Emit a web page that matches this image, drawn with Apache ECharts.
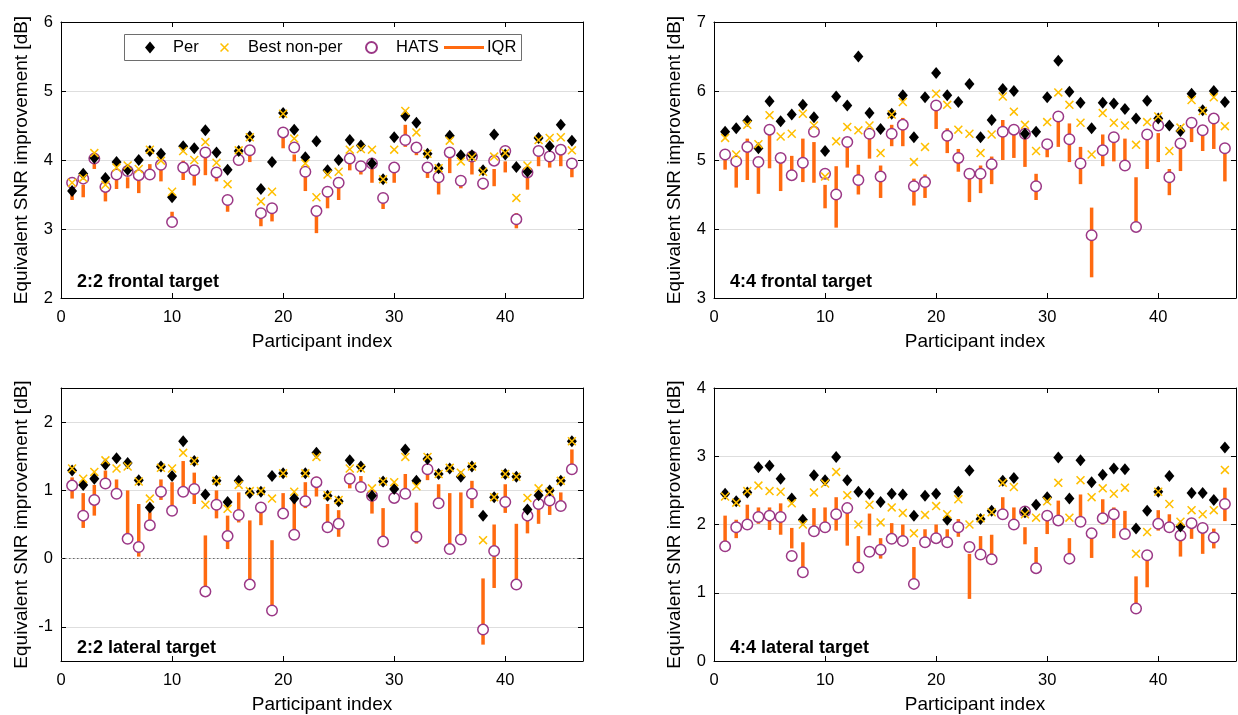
<!DOCTYPE html>
<html>
<head>
<meta charset="utf-8">
<script src="https://cdn.jsdelivr.net/npm/echarts@6/dist/echarts.min.js"></script>
<style>
html,body{margin:0;padding:0;background:#fff;}
#chart{width:1238px;height:715px;}
</style>
</head>
<body>
<div id="chart"></div>
<script>
// ---------------- data ----------------
const participants = [1,2,3,4,5,6,7,8,9,10,11,12,13,14,15,16,17,18,19,20,21,22,23,24,25,26,27,28,29,30,31,32,33,34,35,36,37,38,39,40,41,42,43,44,45,46];
const xTicks = [0,10,20,30,40];
const panelTitles = ['2:2 frontal target','4:4 frontal target','2:2 lateral target','4:4 lateral target'];
const lateral22Ticks = [-1,0,1,2];

// 2:2 frontal target
const f22Per  = [3.55,3.80,4.03,3.74,3.97,3.86,4.00,4.13,4.09,3.46,4.20,4.17,4.43,4.11,3.86,4.13,4.34,3.58,3.97,4.68,4.44,4.04,4.27,3.85,4.00,4.29,4.21,3.95,3.72,4.33,4.64,4.54,4.09,3.88,4.35,4.07,4.07,3.85,4.37,4.08,3.90,3.83,4.32,4.20,4.51,4.28];
const f22Best = [3.67,3.74,4.10,3.64,3.89,3.92,3.87,4.15,3.99,3.54,4.13,4.00,4.26,3.96,3.65,4.14,4.33,3.40,3.54,4.67,4.31,3.95,3.46,3.79,3.83,4.15,4.16,4.15,3.72,4.15,4.71,4.40,4.09,3.88,4.28,3.98,4.04,3.83,4.05,4.10,3.45,3.92,4.29,4.32,4.33,4.14];
const f22Hats = [3.67,3.73,4.02,3.61,3.79,3.84,3.78,3.79,3.93,3.10,3.89,3.85,4.11,3.82,3.42,4.00,4.14,3.23,3.30,4.40,4.18,3.83,3.26,3.54,3.67,4.02,3.91,3.95,3.45,3.89,4.29,4.18,3.89,3.75,4.11,3.70,4.05,3.66,3.99,4.13,3.14,3.82,4.13,4.05,4.15,3.95];
const f22Lo   = [3.42,3.46,3.87,3.40,3.58,3.59,3.52,3.73,3.69,3.12,3.71,3.63,3.78,3.69,3.25,3.92,3.97,3.04,3.11,4.17,3.98,3.55,2.94,3.30,3.42,3.85,3.79,3.67,3.29,3.67,4.19,4.07,3.74,3.50,3.81,3.59,3.79,3.57,3.62,3.82,3.01,3.57,3.91,3.89,3.91,3.75];
const f22Hi   = [3.62,3.64,3.98,3.55,3.77,3.75,3.70,3.94,3.88,3.25,3.99,3.79,4.03,3.85,3.46,4.05,4.20,3.19,3.26,4.46,4.08,3.87,3.25,3.57,3.65,3.98,3.91,3.98,3.43,3.91,4.51,4.25,3.96,3.70,4.08,3.76,4.05,3.69,3.87,3.98,3.23,3.84,4.10,4.08,4.13,3.96];

// 4:4 frontal target
const f44Per  = [5.41,5.46,5.57,5.17,5.85,5.56,5.66,5.80,5.62,5.13,5.92,5.79,6.50,5.68,5.45,5.67,5.94,5.33,5.91,6.26,5.94,5.84,6.10,5.33,5.58,6.03,6.00,5.38,5.41,5.91,6.44,5.99,5.83,5.46,5.83,5.82,5.74,5.60,5.86,5.60,5.50,5.42,5.96,5.72,6.00,5.84];
const f44Best = [5.32,5.08,5.51,5.23,5.65,5.34,5.38,5.67,5.50,4.76,5.27,5.48,5.43,5.50,5.10,5.66,5.84,4.97,5.19,5.96,5.80,5.44,5.38,5.10,5.37,5.92,5.70,5.51,5.13,5.55,5.98,5.80,5.54,5.08,5.68,5.54,5.50,5.22,5.55,5.63,5.13,5.47,5.87,5.71,5.91,5.49];
const f44Hats = [5.08,4.98,5.19,4.97,5.44,5.03,4.78,4.96,5.41,4.80,4.50,5.26,4.71,5.38,4.76,5.38,5.51,4.62,4.68,5.79,5.35,5.03,4.80,4.80,4.94,5.41,5.44,5.38,4.62,5.23,5.63,5.30,4.95,3.91,5.14,5.33,4.92,4.03,5.37,5.50,4.75,5.24,5.54,5.43,5.60,5.17];
const f44Lo   = [4.86,4.60,4.71,4.51,4.88,4.55,4.76,4.68,4.67,4.30,4.02,4.89,4.50,5.02,4.45,5.20,5.20,4.34,4.45,5.45,5.10,4.83,4.39,4.52,4.65,5.00,5.03,4.90,4.42,5.04,5.19,4.97,4.65,3.30,4.91,4.98,4.85,3.98,4.87,4.97,4.49,4.84,5.26,5.13,5.16,4.69];
const f44Hi   = [5.05,4.94,5.31,5.03,5.42,5.09,5.06,5.31,5.26,4.64,4.91,5.26,4.93,5.34,4.92,5.51,5.61,4.73,4.79,5.75,5.46,5.16,4.78,4.92,5.05,5.58,5.39,5.39,4.80,5.25,5.67,5.53,5.19,4.31,5.37,5.37,5.31,4.75,5.29,5.39,4.87,5.18,5.56,5.42,5.54,5.22];

// 2:2 lateral target
const l22Per  = [1.29,1.08,1.17,1.38,1.47,1.40,1.15,0.75,1.35,1.21,1.72,1.43,0.94,1.14,0.83,1.14,0.96,0.98,1.21,1.25,0.88,1.25,1.55,0.92,0.84,1.44,1.35,0.92,1.13,1.02,1.60,1.14,1.46,1.24,1.32,1.20,1.35,0.63,0.90,1.24,1.20,0.72,0.93,1.00,1.14,1.72];
const l22Best = [1.32,1.17,1.27,1.44,1.32,1.35,1.13,0.88,1.33,1.32,1.55,1.43,0.79,1.14,0.73,1.08,0.99,0.99,0.88,1.25,0.98,1.25,1.49,0.93,0.86,1.32,1.32,1.03,1.13,1.12,1.49,1.06,1.49,1.24,1.33,1.26,1.35,0.27,0.90,1.24,1.20,0.89,1.03,0.98,1.14,1.72];
const l22Hats = [1.07,0.63,0.86,1.10,0.95,0.29,0.17,0.49,0.98,0.70,0.98,1.02,-0.48,0.79,0.33,0.64,-0.38,0.75,-0.76,0.66,0.35,0.84,1.12,0.46,0.51,1.17,1.05,0.92,0.25,0.89,0.95,0.32,1.31,0.81,0.14,0.28,0.95,-1.04,0.11,0.83,-0.38,0.63,0.80,0.85,0.77,1.31];
const l22Lo   = [0.88,0.45,0.63,1.04,0.92,0.35,0.03,0.44,0.86,0.63,1.04,0.80,-0.45,0.59,0.14,0.53,-0.33,0.49,-0.79,0.59,0.29,0.74,0.91,0.44,0.32,1.03,0.98,0.66,0.28,0.90,0.95,0.22,1.15,0.82,0.17,0.22,0.74,-1.26,-0.43,0.67,-0.33,0.37,0.51,0.64,0.71,1.26];
const l22Hi   = [1.19,0.96,1.08,1.29,1.16,1.00,0.80,0.68,1.16,1.12,1.43,1.26,0.34,1.00,0.63,0.97,0.56,0.83,0.27,0.96,0.85,1.12,1.20,0.80,0.71,1.26,1.21,0.97,0.74,1.02,1.24,0.82,1.36,1.09,0.96,0.97,1.14,-0.29,0.50,1.09,0.51,0.71,0.87,0.85,0.97,1.60];

// 4:4 lateral target
const l44Per  = [2.45,2.34,2.47,2.84,2.86,2.67,2.38,2.07,2.72,2.65,2.99,2.65,2.48,2.45,2.33,2.45,2.44,2.13,2.42,2.45,2.07,2.48,2.79,2.08,2.20,2.64,2.68,2.18,2.29,2.40,2.98,2.38,2.94,2.62,2.73,2.82,2.81,1.94,2.20,2.48,2.71,1.97,2.46,2.46,2.36,3.13];
const l44Best = [2.41,2.32,2.49,2.57,2.49,2.48,2.31,2.00,2.47,2.60,2.77,2.43,2.00,2.29,2.03,2.25,2.17,1.87,2.14,2.27,2.15,2.37,2.00,2.09,2.18,2.61,2.55,2.15,2.10,2.34,2.61,2.10,2.65,2.40,2.53,2.45,2.54,1.57,1.89,2.48,2.30,2.04,2.21,2.15,2.21,2.80];
const l44Hats = [1.68,1.96,2.00,2.11,2.13,2.11,1.54,1.30,1.90,1.96,2.15,2.24,1.37,1.60,1.63,1.79,1.76,1.13,1.74,1.80,1.74,1.96,1.67,1.56,1.49,2.15,2.00,2.19,1.36,2.13,2.06,1.50,2.04,1.87,2.09,2.15,1.86,0.77,1.55,2.01,1.96,1.84,2.02,1.95,1.81,2.30];
const l44Lo   = [1.61,1.80,2.00,2.01,1.92,1.85,1.65,1.32,1.85,1.89,1.91,1.69,1.44,1.84,1.50,1.77,1.78,1.17,1.71,1.74,1.68,1.82,0.91,1.58,1.51,2.12,2.00,1.71,1.39,1.86,2.04,1.46,2.07,1.51,2.00,1.80,1.85,0.74,1.08,1.91,1.89,1.53,1.79,1.57,1.65,2.05];
const l44Hi   = [2.13,2.07,2.29,2.25,2.25,2.31,1.95,1.74,2.24,2.25,2.40,2.20,1.83,2.16,1.80,2.02,2.00,1.67,1.93,2.00,1.93,2.08,1.57,1.83,1.85,2.40,2.25,1.96,1.67,2.12,2.35,1.80,2.44,1.92,2.37,2.25,2.20,1.24,1.51,2.21,2.15,1.84,2.01,1.98,1.94,2.54];

// ---------------- styling ----------------
const FONT = "'Liberation Sans', Arial, Helvetica, sans-serif";
const ORANGE = '#ff6a10';
const PURPLE = '#9b3886';
const YELLOW = '#ffbf00';
const XPATH = 'path://M0,1.2L1.2,0L10,8.8L8.8,10Z M8.8,0L10,1.2L1.2,10L0,8.8Z';

const panels = [
  {per:f22Per, best:f22Best, hats:f22Hats, lo:f22Lo, hi:f22Hi, yMin:2, yMax:6, yInt:1, left:61, top:22},
  {per:f44Per, best:f44Best, hats:f44Hats, lo:f44Lo, hi:f44Hi, yMin:3, yMax:7, yInt:1, left:714, top:22},
  {per:l22Per, best:l22Best, hats:l22Hats, lo:l22Lo, hi:l22Hi, yMin:-1.5, yMax:2.5, yInt:0.5, custom:lateral22Ticks, left:61, top:388},
  {per:l44Per, best:l44Best, hats:l44Hats, lo:l44Lo, hi:l44Hi, yMin:0, yMax:4, yInt:1, left:714, top:388}
];

const grids = [], xAxes = [], yAxes = [], series = [], titles = [];
const axisLineStyle = {show:true, onZero:false, lineStyle:{color:'#000', width:1}};
const tickStyle = {show:true, inside:true, length:5, lineStyle:{color:'#000', width:1}};

panels.forEach((p, k) => {
  grids.push({left:p.left, top:p.top, width:522, height:276});
  xAxes.push({gridIndex:k, type:'value', position:'bottom', min:0, max:47, interval:10,
    axisLine:axisLineStyle, axisTick:tickStyle, splitLine:{show:false},
    axisLabel:{fontSize:16.5, color:'#000', fontFamily:FONT, margin:11, showMaxLabel:false},
    name:'Participant index', nameLocation:'middle', nameGap:34,
    nameTextStyle:{fontSize:19, color:'#000', fontFamily:FONT}});
  const yl = {gridIndex:k, type:'value', position:'left', min:p.yMin, max:p.yMax, interval:p.yInt,
    axisLine:axisLineStyle, axisTick:Object.assign({}, tickStyle),
    splitLine:{show:true, lineStyle:{color:'#dedede', width:1}},
    axisLabel:{fontSize:16.5, color:'#000', fontFamily:FONT, margin:8},
    name:'Equivalent SNR improvement [dB]', nameLocation:'middle', nameGap:30,
    nameTextStyle:{fontSize:19, color:'#000', fontFamily:FONT}};
  if (p.custom) {
    yl.axisTick.customValues = p.custom;
    yl.axisLabel.customValues = p.custom;
  }
  yAxes.push(yl);
  titles.push({text:panelTitles[k], left:p.left + 16, top:p.top + 251, padding:0,
    textStyle:{fontSize:18, fontWeight:'bold', color:'#000', fontFamily:FONT}});

  series.push({
    type:'custom', name:'IQR', xAxisIndex:k, yAxisIndex:k, z:1,
    itemStyle:{color:ORANGE},
    encode:{x:0, y:[1,2]},
    data: participants.map((x, i) => [x, p.lo[i], p.hi[i]]),
    renderItem: (params, api) => {
      const top = api.coord([api.value(0), api.value(2)]);
      const bot = api.coord([api.value(0), api.value(1)]);
      const w = 3.5;
      return {type:'rect', shape:{x:top[0] - w/2, y:top[1], width:w, height:bot[1] - top[1]},
        style:{fill:api.visual('color')}};
    }
  });
  const hatsSeries = {
    type:'scatter', name:'HATS', xAxisIndex:k, yAxisIndex:k, z:2,
    symbol:'circle', symbolSize:10.5,
    itemStyle:{color:'#fff', borderColor:PURPLE, borderWidth:1.5, opacity:1},
    data: participants.map((x, i) => [x, p.hats[i]])
  };
  if (p.custom) {
    hatsSeries.markLine = {silent:true, symbol:'none', label:{show:false},
      lineStyle:{color:'#666', type:[1.5,2.5], width:1}, data:[{yAxis:0}], animation:false};
  }
  series.push(hatsSeries);
  series.push({
    type:'scatter', name:'Per', xAxisIndex:k, yAxisIndex:k, z:3,
    symbol:'diamond', symbolSize:[10,12], itemStyle:{color:'#000', opacity:1},
    data: participants.map((x, i) => [x, p.per[i]])
  });
  series.push({
    type:'scatter', name:'Best non-per', xAxisIndex:k, yAxisIndex:k, z:4,
    symbol:XPATH, symbolSize:9, itemStyle:{color:YELLOW, opacity:1},
    data: participants.map((x, i) => [x, p.best[i]])
  });
});
// mirrored (top / right) axes added after the main ones so indices 0..3 are the data axes
panels.forEach((p, k) => {
  xAxes.push({gridIndex:k, type:'value', position:'top', min:0, max:47, interval:10,
    axisLine:axisLineStyle, axisTick:tickStyle, splitLine:{show:false}, axisLabel:{show:false}});
  const yr = {gridIndex:k, type:'value', position:'right', min:p.yMin, max:p.yMax, interval:p.yInt,
    axisLine:axisLineStyle, axisTick:Object.assign({}, tickStyle), splitLine:{show:false}, axisLabel:{show:false}};
  if (p.custom) yr.axisTick.customValues = p.custom;
  yAxes.push(yr);
});

const legendText = {fontSize:16.5, color:'#000', fontFamily:FONT, lineHeight:18};
const legends = [
  {left:145, top:38.5, itemWidth:10, itemHeight:12, data:[{name:'Per', icon:'diamond'}],
    textStyle:Object.assign({padding:[0,0,0,13]}, legendText)},
  {left:220, top:38.5, itemWidth:9, itemHeight:9, data:[{name:'Best non-per', icon:XPATH}],
    textStyle:Object.assign({padding:[0,0,0,14]}, legendText)},
  {left:365, top:38.5, itemWidth:11, itemHeight:11, data:[{name:'HATS', icon:'circle'}],
    textStyle:Object.assign({padding:[0,0,0,14]}, legendText)},
  {left:444, top:38.5, itemWidth:40, itemHeight:3, data:[{name:'IQR', icon:'rect'}],
    textStyle:Object.assign({padding:[0,0,0,-2]}, legendText)}
].map(l => Object.assign({selectedMode:false, padding:0, itemGap:0, orient:'horizontal'}, l));

const chart = echarts.init(document.getElementById('chart'), null, {renderer:'canvas'});
chart.setOption({
  animation:false,
  backgroundColor:'#fff',
  textStyle:{fontFamily:FONT},
  title:titles,
  grid:grids,
  xAxis:xAxes,
  yAxis:yAxes,
  legend:legends,
  graphic:[{type:'rect', left:124, top:34, z:-1, silent:true,
    shape:{width:397, height:26}, style:{fill:'#fff', stroke:'#6e6e6e', lineWidth:1}}],
  series:series
});
</script>
</body>
</html>
